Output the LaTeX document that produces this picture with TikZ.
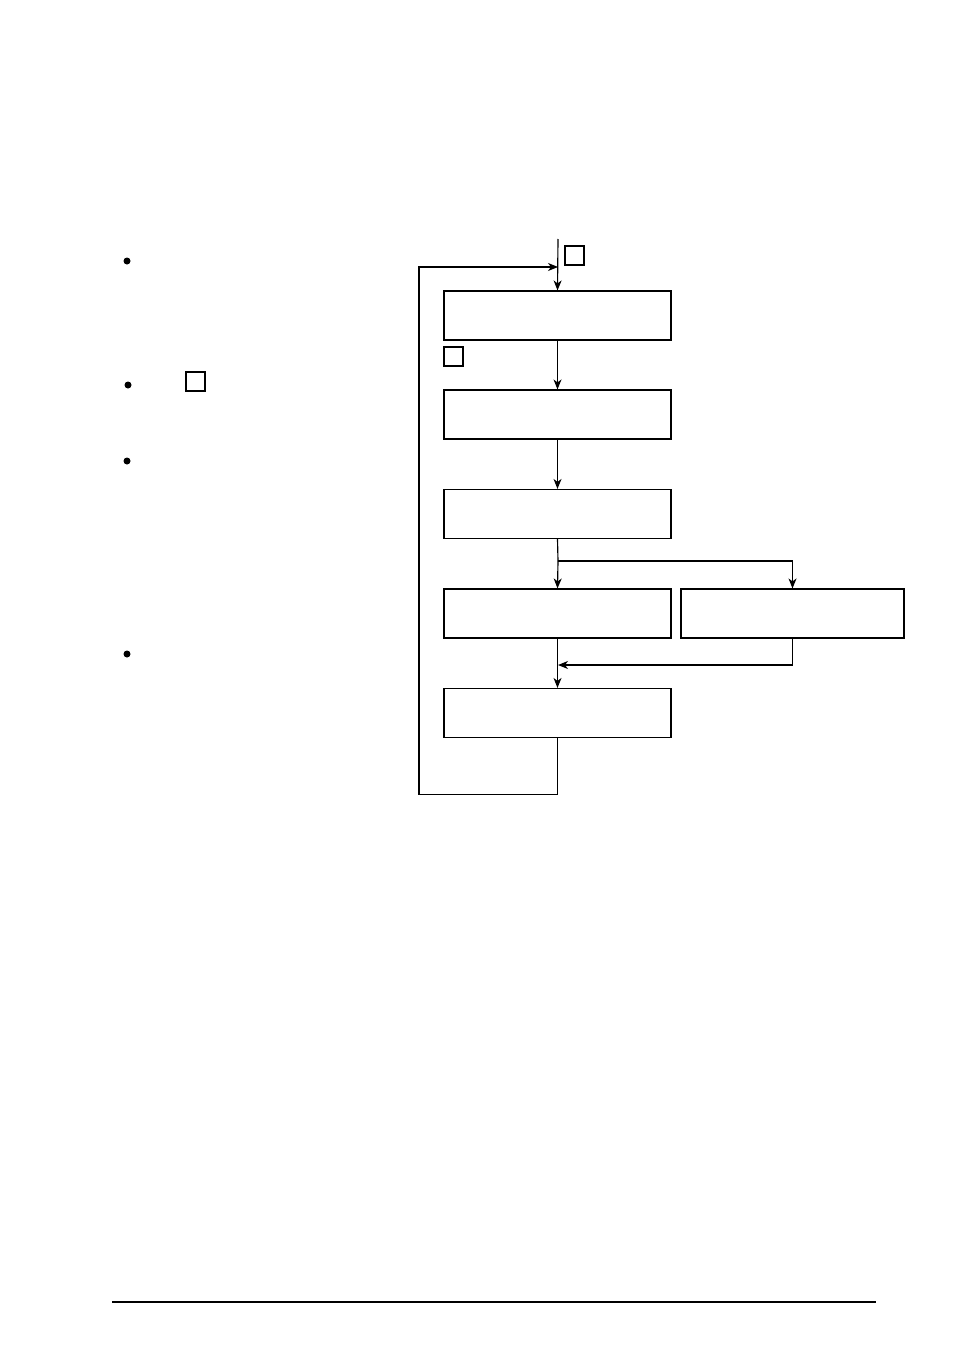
\documentclass[tikz,border=0pt]{standalone}
\usepackage{amsmath}
\usepackage{tikz}
\usetikzlibrary{arrows.meta}

\tikzset{
  stepbox/.style={draw, line width=1.15pt, minimum width=227pt, minimum height=49pt, inner sep=0pt},
  markbox/.style={draw, line width=1.1pt, minimum width=19pt, minimum height=19pt, inner sep=0pt},
  bullet/.style={circle, fill, inner sep=0pt, minimum size=7pt},
  flow/.style={line width=1.15pt, -{Stealth[length=10pt,width=8pt,inset=3pt]}}
}

\begin{document}
\begin{tikzpicture}[x=1pt,y=-1pt,line width=1.15pt]
    \useasboundingbox (0,0) rectangle (954,1351);
    % boxes of the loop
    \node (B1) at (557.5,315.5) [stepbox] {};
    \node (B2) at (557.5,414.5) [stepbox] {};
    \node (B3) at (557.5,514) [stepbox] {};
    \node (B4) at (557.5,613.5) [stepbox] {};
    \node (B5) at (792.5,613.5) [stepbox, minimum width=223pt] {};
    \node (B6) at (557.5,713) [stepbox] {};
    % small marks
    \node (M1) at (574.5,255.5) [markbox] {};
    \node (M2) at (453.5,356.5) [markbox] {};
    \node (M3) at (195.5,381.5) [markbox] {};
    % bullets on the left
    \node (D1) at (127,261) [bullet] {};
    \node (D2) at (128,385) [bullet] {};
    \node (D3) at (127,461) [bullet] {};
    \node (D4) at (127,654) [bullet] {};
    \coordinate (In) at (558,239);
    \coordinate (Split) at (558,561);
    \coordinate (Join) at (558,665);
    \coordinate (Back) at (558,267);
    \draw[flow] (In) -- (B1.north);
    \draw[flow] (B1) -- (B2);
    \draw[flow] (B2) -- (B3);
    \draw (B3.south) -- (Split);
    \draw[flow] (Split) -- (B4.north);
    \draw[flow] (Split) -| (B5.north);
    \draw[flow] (B5.south) |- (Join);
    \draw[flow] (B4) -- (B6);
    \draw[flow] (B6.south) -- ++(0,56) -| (419,400) |- (Back);
    % rule at the foot of the page
    \draw (112,1302) -- (876,1302);
\end{tikzpicture}
\end{document}
